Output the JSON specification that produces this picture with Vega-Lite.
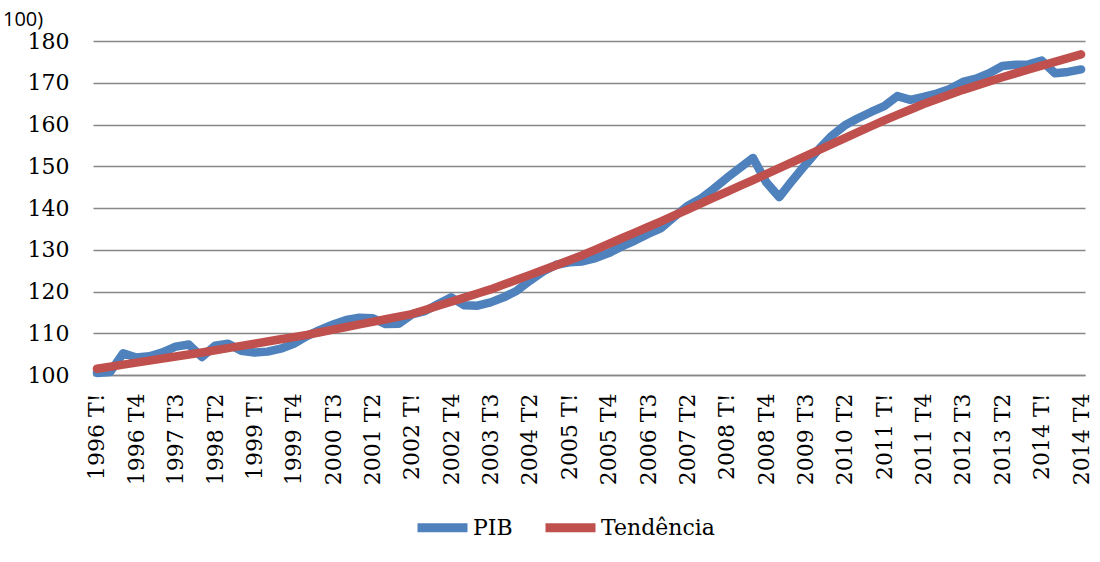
{
  "$schema": "https://vega.github.io/schema/vega-lite/v6.json",
  "width": 992,
  "height": 334,
  "autosize": "none",
  "padding": {"left": 93, "top": 41, "right": 15, "bottom": 187},
  "background": "white",
  "title": {"text": "100)", "anchor": "start", "frame": "group", "orient": "top", "offset": -16, "dx": -90, "baseline": "alphabetic", "font": "Open Sans", "fontSize": 20, "fontWeight": "normal", "color": "black"},
  "data": {"values": [
    {"q": "1996 T!", "PIB": 100.5, "Tendência": 101.5},
    {"q": "1996 T2", "PIB": 100.7, "Tendência": 101.99},
    {"q": "1996 T3", "PIB": 105.2, "Tendência": 102.48},
    {"q": "1996 T4", "PIB": 104.2, "Tendência": 102.96},
    {"q": "1997 T!", "PIB": 104.5, "Tendência": 103.45},
    {"q": "1997 T2", "PIB": 105.4, "Tendência": 103.94},
    {"q": "1997 T3", "PIB": 106.8, "Tendência": 104.43},
    {"q": "1997 T4", "PIB": 107.3, "Tendência": 104.91},
    {"q": "1998 T!", "PIB": 104.3, "Tendência": 105.4},
    {"q": "1998 T2", "PIB": 107.0, "Tendência": 105.93},
    {"q": "1998 T3", "PIB": 107.5, "Tendência": 106.45},
    {"q": "1998 T4", "PIB": 105.8, "Tendência": 106.98},
    {"q": "1999 T!", "PIB": 105.4, "Tendência": 107.5},
    {"q": "1999 T2", "PIB": 105.6, "Tendência": 108.03},
    {"q": "1999 T3", "PIB": 106.3, "Tendência": 108.55},
    {"q": "1999 T4", "PIB": 107.5, "Tendência": 109.08},
    {"q": "2000 T!", "PIB": 109.3, "Tendência": 109.6},
    {"q": "2000 T2", "PIB": 110.8, "Tendência": 110.23},
    {"q": "2000 T3", "PIB": 112.1, "Tendência": 110.86},
    {"q": "2000 T4", "PIB": 113.2, "Tendência": 111.5},
    {"q": "2001 T!", "PIB": 113.7, "Tendência": 112.12},
    {"q": "2001 T2", "PIB": 113.6, "Tendência": 112.74},
    {"q": "2001 T3", "PIB": 112.2, "Tendência": 113.36},
    {"q": "2001 T4", "PIB": 112.3, "Tendência": 113.98},
    {"q": "2002 T!", "PIB": 114.5, "Tendência": 114.6},
    {"q": "2002 T2", "PIB": 115.3, "Tendência": 115.58},
    {"q": "2002 T3", "PIB": 117.0, "Tendência": 116.57},
    {"q": "2002 T4", "PIB": 118.6, "Tendência": 117.55},
    {"q": "2003 T!", "PIB": 116.7, "Tendência": 118.53},
    {"q": "2003 T2", "PIB": 116.6, "Tendência": 119.52},
    {"q": "2003 T3", "PIB": 117.4, "Tendência": 120.5},
    {"q": "2003 T4", "PIB": 118.6, "Tendência": 121.66},
    {"q": "2004 T!", "PIB": 120.2, "Tendência": 122.82},
    {"q": "2004 T2", "PIB": 122.6, "Tendência": 123.98},
    {"q": "2004 T3", "PIB": 124.8, "Tendência": 125.14},
    {"q": "2004 T4", "PIB": 126.4, "Tendência": 126.3},
    {"q": "2005 T!", "PIB": 127.0, "Tendência": 127.5},
    {"q": "2005 T2", "PIB": 127.2, "Tendência": 128.7},
    {"q": "2005 T3", "PIB": 128.0, "Tendência": 130.05},
    {"q": "2005 T4", "PIB": 129.2, "Tendência": 131.4},
    {"q": "2006 T!", "PIB": 130.8, "Tendência": 132.75},
    {"q": "2006 T2", "PIB": 132.2, "Tendência": 134.1},
    {"q": "2006 T3", "PIB": 133.8, "Tendência": 135.45},
    {"q": "2006 T4", "PIB": 135.2, "Tendência": 136.8},
    {"q": "2007 T!", "PIB": 137.9, "Tendência": 138.22},
    {"q": "2007 T2", "PIB": 140.5, "Tendência": 139.63},
    {"q": "2007 T3", "PIB": 142.2, "Tendência": 141.05},
    {"q": "2007 T4", "PIB": 144.6, "Tendência": 142.47},
    {"q": "2008 T!", "PIB": 147.2, "Tendência": 143.88},
    {"q": "2008 T2", "PIB": 149.6, "Tendência": 145.3},
    {"q": "2008 T3", "PIB": 152.0, "Tendência": 146.7},
    {"q": "2008 T4", "PIB": 146.2, "Tendência": 148.1},
    {"q": "2009 T!", "PIB": 142.6, "Tendência": 149.54},
    {"q": "2009 T2", "PIB": 146.6, "Tendência": 150.98},
    {"q": "2009 T3", "PIB": 150.4, "Tendência": 152.42},
    {"q": "2009 T4", "PIB": 154.0, "Tendência": 153.86},
    {"q": "2010 T!", "PIB": 157.3, "Tendência": 155.3},
    {"q": "2010 T2", "PIB": 159.8, "Tendência": 156.73},
    {"q": "2010 T3", "PIB": 161.5, "Tendência": 158.15},
    {"q": "2010 T4", "PIB": 163.0, "Tendência": 159.58},
    {"q": "2011 T!", "PIB": 164.4, "Tendência": 161.0},
    {"q": "2011 T2", "PIB": 166.8, "Tendência": 162.3},
    {"q": "2011 T3", "PIB": 165.9, "Tendência": 163.6},
    {"q": "2011 T4", "PIB": 166.6, "Tendência": 164.9},
    {"q": "2012 T!", "PIB": 167.4, "Tendência": 166.03},
    {"q": "2012 T2", "PIB": 168.5, "Tendência": 167.17},
    {"q": "2012 T3", "PIB": 170.2, "Tendência": 168.3},
    {"q": "2012 T4", "PIB": 171.0, "Tendência": 169.3},
    {"q": "2013 T!", "PIB": 172.3, "Tendência": 170.3},
    {"q": "2013 T2", "PIB": 174.0, "Tendência": 171.3},
    {"q": "2013 T3", "PIB": 174.3, "Tendência": 172.23},
    {"q": "2013 T4", "PIB": 174.4, "Tendência": 173.17},
    {"q": "2014 T!", "PIB": 175.3, "Tendência": 174.1},
    {"q": "2014 T2", "PIB": 172.3, "Tendência": 175.0},
    {"q": "2014 T3", "PIB": 172.6, "Tendência": 175.9},
    {"q": "2014 T4", "PIB": 173.2, "Tendência": 176.8}
  ]},
  "transform": [{"fold": ["PIB", "Tendência"], "as": ["serie", "valor"]}],
  "mark": {"type": "line", "strokeWidth": 8.5, "strokeJoin": "round", "strokeCap": "round"},
  "encoding": {
    "x": {
      "field": "q", "type": "ordinal", "sort": null,
      "scale": {"type": "point", "padding": 0.3},
      "axis": {
        "title": null,
        "values": ["1996 T!", "1996 T4", "1997 T3", "1998 T2", "1999 T!", "1999 T4", "2000 T3", "2001 T2", "2002 T!", "2002 T4", "2003 T3", "2004 T2", "2005 T!", "2005 T4", "2006 T3", "2007 T2", "2008 T!", "2008 T4", "2009 T3", "2010 T2", "2011 T!", "2011 T4", "2012 T3", "2013 T2", "2014 T!", "2014 T4"],
        "labelAngle": 270,
        "labelAlign": "right",
        "labelBaseline": "middle",
        "ticks": false,
        "grid": false,
        "domainColor": "#878787",
        "domainWidth": 1.5,
        "labelFont": "DejaVu Serif",
        "labelFontSize": 22,
        "labelColor": "black",
        "labelPadding": 18,
        "labelOverlap": false
      }
    },
    "y": {
      "field": "valor", "type": "quantitative",
      "scale": {"domain": [100, 180], "zero": false, "nice": false},
      "axis": {
        "title": null,
        "values": [100, 110, 120, 130, 140, 150, 160, 170, 180],
        "grid": true,
        "gridColor": "#878787",
        "gridWidth": 1.5,
        "domain": false,
        "ticks": false,
        "labelPadding": 24,
        "labelFont": "DejaVu Serif",
        "labelFontSize": 22,
        "labelColor": "black"
      }
    },
    "color": {
      "field": "serie", "type": "nominal",
      "scale": {"domain": ["PIB", "Tendência"], "range": ["#4F81BD", "#C0504D"]},
      "legend": {
        "title": null,
        "orient": "none",
        "legendX": 320,
        "legendY": 457,
        "direction": "horizontal",
        "symbolType": "stroke",
        "symbolStrokeWidth": 9,
        "symbolSize": 2500,
        "labelFont": "DejaVu Serif",
        "labelFontSize": 22,
        "labelColor": "black",
        "labelOffset": 1,
        "columnPadding": 14
      }
    }
  },
  "config": {"view": {"stroke": null}}
}
